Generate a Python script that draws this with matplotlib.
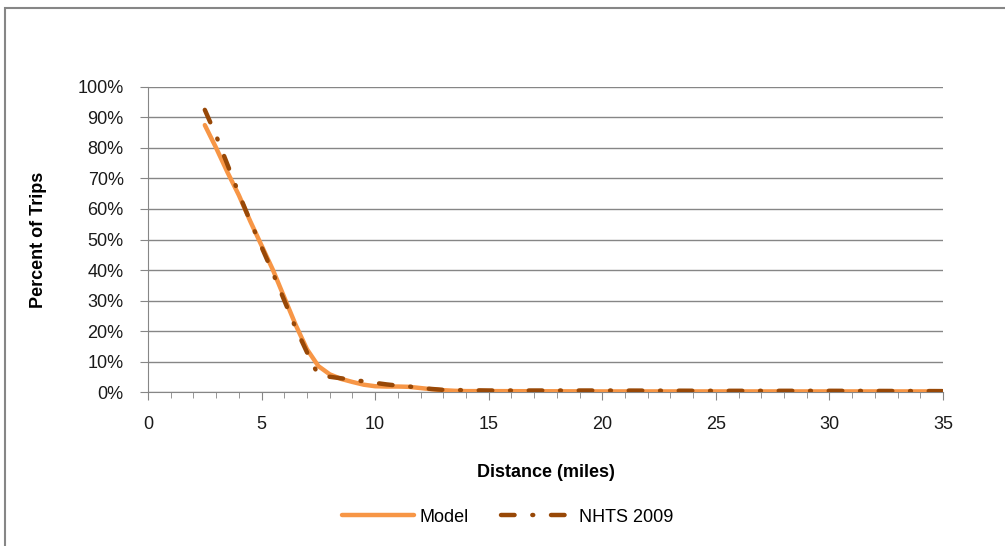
import matplotlib
matplotlib.use("Agg")
import matplotlib.pyplot as plt
from matplotlib.patches import Rectangle
from matplotlib.ticker import MultipleLocator, PercentFormatter

plt.rcParams['font.family'] = ['Liberation Sans', 'DejaVu Sans']

# distance (miles) and share of trips (%)
model_miles = [2.5, 3.0, 3.5, 4.0, 4.5, 5.0, 5.5, 6.0, 6.5, 7.0, 7.5, 8.0, 8.5, 9.0,
               9.5, 10.0, 10.5, 11.0, 11.5, 12.0, 12.5, 13.0, 13.5, 14.0, 15.0,
               20.0, 25.0, 30.0, 35.0]
model_pct = [87.5, 80.0, 72.0, 64.5, 56.0, 48.0, 40.0, 31.0, 22.0, 14.0, 8.5, 5.8, 4.3, 3.3,
             2.4, 1.9, 1.8, 1.8, 1.7, 1.3, 0.9, 0.6, 0.4, 0.3, 0.3,
             0.2, 0.2, 0.2, 0.2]

nhts_miles = [2.5, 3.0, 3.5, 4.0, 4.5, 5.0, 5.5, 6.0, 6.5, 7.0, 7.5, 8.0, 8.5, 9.0,
              9.5, 10.0, 10.5, 11.0, 11.5, 12.0, 12.5, 13.0, 14.0, 15.0, 20.0,
              25.0, 30.0, 35.0]
nhts_pct = [92.5, 84.0, 74.5, 65.0, 56.0, 47.5, 39.0, 30.0, 21.0, 13.0, 5.5, 5.0, 4.5, 4.0,
            3.5, 3.0, 2.5, 2.1, 1.8, 1.3, 1.0, 0.7, 0.6, 0.5, 0.5,
            0.4, 0.4, 0.3]

fig = plt.figure(figsize=(10.05, 5.46), dpi=100)
ax = fig.add_axes([0.1473, 0.282, 0.791, 0.5587])

# chart border (Excel chart area)
fig.patches.append(Rectangle((5 / 1005, -0.1), 1.2, 1 - 8 / 546 + 0.1,
                             transform=fig.transFigure, fill=False,
                             edgecolor='#868686', linewidth=1.5))

ax.plot(model_miles, model_pct, color='#F79646', linewidth=3.2,
        solid_capstyle='round', label='Model', zorder=3)
ax.plot(nhts_miles, nhts_pct, color='#984807', linewidth=3.2,
        linestyle=(0, (3.05, 4.0, 0.2, 4.0)), dash_capstyle='round',
        label='NHTS 2009', zorder=4)

ax.set_xlim(0, 35)
ax.set_ylim(0, 100)
ax.xaxis.set_major_locator(MultipleLocator(5))
ax.xaxis.set_minor_locator(MultipleLocator(1))
ax.yaxis.set_major_locator(MultipleLocator(10))
ax.yaxis.set_major_formatter(PercentFormatter(decimals=0))

ax.grid(axis='y', color='#868686', linewidth=1)
ax.set_axisbelow(True)
for s in ['top', 'right']:
    ax.spines[s].set_visible(False)
for s in ['left', 'bottom']:
    ax.spines[s].set_color('#868686')
ax.tick_params(axis='both', which='major', direction='out', color='#868686',
               labelsize=13, length=5.5, labelcolor='#1a1a1a')
ax.tick_params(axis='x', which='major', pad=12)
ax.tick_params(axis='y', which='major', pad=12)
ax.tick_params(axis='x', which='minor', direction='out', color='#868686', length=4)

ax.set_xlabel('Distance (miles)', fontsize=13, fontweight='bold', labelpad=22)
ax.set_ylabel('Percent of Trips', fontsize=13, fontweight='bold', labelpad=22)

fig.legend(loc='center', bbox_to_anchor=(0.505, 0.053), ncol=2, frameon=False,
           fontsize=13, handlelength=4, handletextpad=0.3, columnspacing=1.8)

fig.savefig('out.png', dpi=100)
